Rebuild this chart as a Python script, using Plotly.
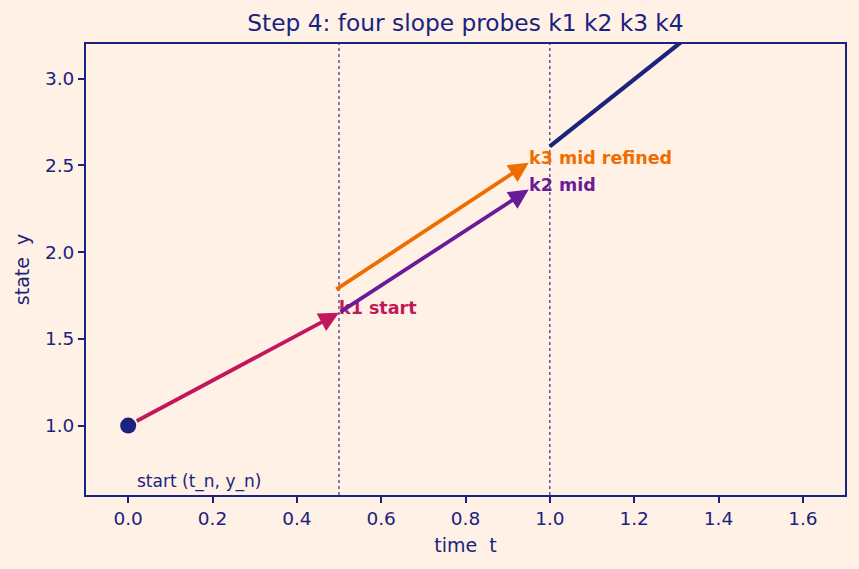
import plotly.graph_objects as go

# ---- data ----
probe_names = ["k1", "k2", "k3", "k4"]
t_start = [0.0, 0.5, 0.49, 1.0]
y_start = [1.0, 1.65, 1.78, 2.61]
slopes = [1.30, 1.58, 1.60, 1.93]
dt = [0.50, 0.45, 0.46, 0.45]
probe_labels = ["k1 start", "k2 mid", "k3 mid refined", ""]
probe_colors = ["#C2185B", "#6A1B9A", "#EF6C00", "#1A237E"]

start_point_t = [0.0]
start_point_y = [1.0]
start_label = "start (t_n, y_n)"
start_label_pos = (0.02, 0.68)

vline_t = [0.5, 1.0]
x_ticks = [0.0, 0.2, 0.4, 0.6, 0.8, 1.0, 1.2, 1.4, 1.6]
y_ticks = [1.0, 1.5, 2.0, 2.5, 3.0]

NAVY = "#1A237E"
BG = "#FFF1E5"
FONT = "DejaVu Sans"

fig = go.Figure()

t_end = [t + d for t, d in zip(t_start, dt)]
y_end = [y + s * d for y, s, d in zip(y_start, slopes, dt)]

# k4: plain thick line clipped by the axes
fig.add_trace(go.Scatter(
    x=[t_start[3], t_end[3]], y=[y_start[3], y_end[3]],
    mode="lines", line=dict(color=probe_colors[3], width=4.2),
    showlegend=False, hoverinfo="skip"))

# start marker
fig.add_trace(go.Scatter(
    x=start_point_t, y=start_point_y, mode="markers",
    marker=dict(color=NAVY, size=16), showlegend=False, hoverinfo="skip"))

# arrows k1..k3
for i in range(3):
    fig.add_annotation(
        x=t_end[i], y=y_end[i], ax=t_start[i], ay=y_start[i],
        xref="x", yref="y", axref="x", ayref="y",
        text="", showarrow=True, arrowhead=2, arrowsize=1.05,
        arrowwidth=3.8, arrowcolor=probe_colors[i],
        standoff=0, startstandoff=(8 if i == 0 else 0))
    fig.add_annotation(
        x=t_end[i], y=y_end[i], xref="x", yref="y",
        text="<b>" + probe_labels[i] + "</b>", showarrow=False,
        xanchor="left", yanchor="middle", yshift=5, xshift=-2,
        font=dict(family=FONT, size=17.5, color=probe_colors[i]))

fig.add_annotation(
    x=start_label_pos[0], y=start_label_pos[1], xref="x", yref="y",
    text=start_label, showarrow=False, xanchor="left", yanchor="middle",
    xshift=-2, font=dict(family=FONT, size=17, color=NAVY))

for t in vline_t:
    fig.add_shape(type="line", x0=t, x1=t, y0=0, y1=1, xref="x", yref="paper",
                  line=dict(color="#3A2C8C", width=1.2, dash="dot"), layer="below")

axis_common = dict(
    showline=True, mirror=True, linecolor=NAVY, linewidth=1.8,
    ticks="outside", ticklen=6, tickwidth=1.5, tickcolor=NAVY,
    showgrid=False, zeroline=False,
    tickfont=dict(family=FONT, size=18.5, color=NAVY),
)

fig.update_layout(
    width=859, height=569,
    paper_bgcolor=BG, plot_bgcolor=BG,
    margin=dict(l=86, r=14, t=44, b=74),
    title=dict(text="Step 4: four slope probes k1 k2 k3 k4",
               x=0.5, xref="paper", y=1 - 23 / 569, yref="container",
               xanchor="center", yanchor="middle",
               font=dict(family=FONT, size=23.3, color=NAVY)),
    xaxis=dict(range=[-0.1, 1.7], tickvals=x_ticks,
               ticktext=[f"{v:.1f}" for v in x_ticks],
               title=dict(text="time\u00a0 t", standoff=11,
                          font=dict(family=FONT, size=19, color=NAVY)),
               **axis_common),
    yaxis=dict(range=[0.6, 3.2], tickvals=y_ticks,
               ticktext=[f"{v:.1f}" for v in y_ticks],
               title=dict(text="state\u00a0 y", standoff=10,
                          font=dict(family=FONT, size=19, color=NAVY)),
               **axis_common),
    showlegend=False,
)

fig.write_html("out.html")
